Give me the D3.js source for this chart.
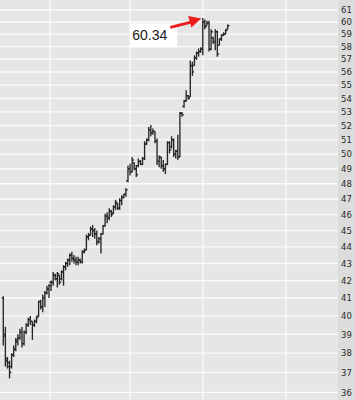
<!DOCTYPE html>
<html>
<head>
<meta charset="utf-8">
<script src="https://cdn.jsdelivr.net/npm/d3@7/dist/d3.min.js"></script>
<style>
  body { margin: 0; background: #e6e6e6; }
  svg { display: block; }
</style>
</head>
<body>
<svg width="355" height="400"></svg>
<script>
// daily OHLC
const opens = [41.0, 39.0, 37.7, 37.5, 37.3, 37.9, 38.2, 38.6, 38.8, 39.1,
  38.5, 39.1, 39.5, 39.8, 39.7, 39.5, 39.7, 40.0, 40.8, 40.5,
  41.0, 41.3, 41.5, 41.9, 41.9, 42.3, 42.1, 42.3, 42.1, 42.5,
  42.8, 43.0, 43.2, 43.5, 43.3, 43.2, 43.1, 43.2, 43.1, 43.7,
  43.8, 44.6, 44.7, 45.1, 45.0, 44.8, 44.3, 44.5, 44.8, 45.3,
  45.9, 45.8, 46.2, 46.1, 46.5, 46.7, 46.4, 46.9, 47.1, 47.3,
  48.2, 49.0, 48.8, 49.4, 49.0, 49.2, 49.5, 49.3, 49.7, 50.7,
  51.0, 51.7, 51.5, 51.6, 50.9, 49.5, 49.8, 49.2, 49.0, 49.3,
  50.8, 50.5, 51.0, 50.0, 50.2, 49.8, 52.9, 53.4, 53.8, 54.2,
  54.1, 56.5, 56.5, 57.1, 57.5, 57.6, 57.8, 60.0, 59.7, 59.9,
  57.8, 58.7, 58.4, 59.2, 58.1, 58.6, 58.9, 59.0, 59.4];
const highs = [41.1, 39.4, 37.8, 37.6, 38.0, 38.4, 38.8, 39.0, 39.3, 39.4,
  39.2, 39.6, 39.9, 40.0, 39.7, 39.8, 40.0, 40.85, 40.9, 41.2,
  41.4, 41.7, 41.8, 42.0, 42.5, 42.4, 42.5, 42.33, 42.6, 42.9,
  43.1, 43.3, 43.6, 43.7, 43.5, 43.4, 43.4, 43.3, 43.8, 43.9,
  44.75, 44.85, 45.25, 45.35, 45.15, 45.0, 44.6, 44.85, 45.35, 46.05,
  46.15, 46.4, 46.3, 46.6, 46.95, 46.75, 47.05, 47.25, 47.35, 47.7,
  49.2, 49.35, 49.8, 49.45, 49.25, 49.7, 49.6, 49.8, 50.9, 51.1,
  51.9, 52.05, 51.8, 51.6, 51.1, 49.9, 49.8, 49.6, 49.35, 50.9,
  50.9, 51.25, 51.1, 50.3, 51.35, 53.0, 53.0, 53.9, 54.6, 54.25,
  56.9, 56.8, 57.3, 57.6, 57.85, 57.95, 60.34, 60.2, 60.1, 60.1,
  59.4, 58.8, 59.4, 59.3, 58.65, 59.0, 59.15, 59.4, 59.8];
const lows = [38.4, 37.3, 37.2, 36.7, 37.2, 37.8, 38.1, 38.4, 38.7, 38.3,
  38.4, 39.0, 39.4, 39.5, 38.7, 39.4, 39.6, 39.96, 40.35, 40.2,
  40.5, 41.2, 41.0, 41.4, 41.7, 42.0, 41.6, 41.76, 42.0, 41.7,
  42.6, 42.8, 42.9, 43.1, 43.0, 42.9, 42.9, 43.0, 43.0, 43.6,
  43.8, 44.4, 44.7, 44.6, 44.5, 44.1, 44.2, 43.6, 44.75, 45.25,
  45.45, 45.65, 45.85, 46.05, 46.3, 46.3, 46.3, 46.6, 47.05, 47.15,
  48.1, 48.55, 48.75, 48.9, 48.45, 49.1, 49.25, 49.25, 49.6, 50.65,
  50.9, 51.25, 51.35, 50.75, 49.25, 49.1, 49.0, 48.8, 48.65, 49.25,
  50.05, 50.4, 49.8, 49.7, 49.6, 49.8, 52.65, 53.3, 53.75, 53.9,
  54.1, 55.7, 56.5, 56.95, 57.2, 57.5, 57.3, 59.4, 59.7, 57.6,
  57.7, 58.2, 57.7, 57.2, 58.1, 58.45, 58.85, 59.0, 59.4];
const closes = [38.9, 37.6, 37.3, 37.0, 37.9, 38.2, 38.7, 38.8, 39.1, 38.5,
  39.1, 39.5, 39.8, 39.7, 39.5, 39.7, 39.9, 40.8, 40.5, 41.0,
  41.3, 41.5, 41.7, 41.9, 42.3, 42.1, 42.4, 41.9, 42.5, 42.8,
  43.0, 43.2, 43.5, 43.3, 43.2, 43.1, 43.2, 43.1, 43.7, 43.8,
  44.6, 44.7, 45.1, 45.0, 44.8, 44.3, 44.5, 44.8, 45.3, 45.9,
  45.8, 46.2, 46.0, 46.5, 46.8, 46.4, 46.9, 47.1, 47.3, 47.6,
  49.0, 48.8, 49.6, 49.0, 48.6, 49.5, 49.3, 49.7, 50.7, 51.0,
  51.7, 51.5, 51.6, 50.9, 49.5, 49.8, 49.2, 49.0, 49.3, 50.8,
  50.3, 51.0, 50.0, 50.2, 49.8, 52.9, 52.8, 53.8, 54.2, 54.0,
  56.5, 56.0, 57.1, 57.5, 57.6, 57.8, 60.0, 59.6, 59.9, 57.8,
  59.2, 58.4, 59.2, 57.4, 58.6, 58.9, 59.0, 59.3, 59.7];

const yTicks = [36, 37, 38, 39, 40, 41, 42, 43, 44, 45, 46, 47, 48,
  49, 50, 51, 52, 53, 54, 55, 56, 57, 58, 59, 60, 61];
const gridBars = [22.5, 61, 96, 136]; // vertical grid positions, in bar units
const peakBar = 96;
const peakLabel = "60.34";

const svg = d3.select("svg");
const width = +svg.attr("width");
const height = +svg.attr("height");
const plotRight = 338;

const x = d3.scaleLinear().domain([0, opens.length - 1]).range([3.3, 227.7]);
const y = d3.scaleLog().domain([36, 61]).range([392.3, 10]);

// backgrounds
svg.append("rect").attr("width", width).attr("height", height).attr("fill", "#e6e6e6");
svg.append("rect").attr("x", plotRight).attr("width", width - plotRight)
  .attr("height", height).attr("fill", "#dcdcdc");

// grid
const grid = svg.append("g").attr("stroke", "#fbfbfb").attr("stroke-width", 1.3);
grid.selectAll("line.h").data(yTicks).enter().append("line")
  .attr("class", "h")
  .attr("x1", 0).attr("x2", plotRight)
  .attr("y1", (d) => y(d)).attr("y2", (d) => y(d));
grid.selectAll("line.v").data(gridBars).enter().append("line")
  .attr("class", "v")
  .attr("x1", (d) => x(d)).attr("x2", (d) => x(d))
  .attr("y1", 0).attr("y2", height);

// right axis labels
const yAxis = d3.axisRight(y).tickValues(yTicks).tickFormat(d3.format("d"))
  .tickSize(0).tickPadding(3);
const yAxisG = svg.append("g").attr("transform", `translate(${plotRight}, 0)`).call(yAxis);
yAxisG.select(".domain").remove();
yAxisG.selectAll("text")
  .attr("fill", "#2a2a2a")
  .style("font-family", "'DejaVu Sans', Verdana, sans-serif")
  .style("font-size", "8.5px");

// ohlc bars
const idx = d3.range(opens.length);
const bars = svg.append("g").attr("stroke", "#262626").attr("stroke-width", 1.35);
const bx = (i) => x(i);
bars.selectAll("line.hl").data(idx).enter().append("line")
  .attr("x1", bx).attr("x2", bx)
  .attr("y1", (i) => y(highs[i])).attr("y2", (i) => y(lows[i]));
bars.selectAll("line.o").data(idx).enter().append("line")
  .attr("x1", (i) => bx(i) - 1.8).attr("x2", bx)
  .attr("y1", (i) => y(opens[i])).attr("y2", (i) => y(opens[i]));
bars.selectAll("line.c").data(idx).enter().append("line")
  .attr("x1", bx).attr("x2", (i) => bx(i) + 1.8)
  .attr("y1", (i) => y(closes[i])).attr("y2", (i) => y(closes[i]));

// peak annotation
const tipX = x(peakBar) - 1.5;
const tipY = y(highs[peakBar]) + 0.5;
const note = svg.append("g");
note.append("rect")
  .attr("x", tipX - 71).attr("y", tipY + 5)
  .attr("width", 47).attr("height", 24)
  .attr("fill", "#ffffff");
note.append("text")
  .attr("x", tipX - 69).attr("y", tipY + 21.5)
  .attr("fill", "#1a1a1a")
  .style("font-family", "'Liberation Sans', Arial, sans-serif")
  .style("font-size", "14px")
  .text(peakLabel);
note.append("line")
  .attr("x1", tipX - 31).attr("y1", tipY + 9)
  .attr("x2", tipX - 9).attr("y2", tipY + 3.5)
  .attr("stroke", "#ee1c1c").attr("stroke-width", 3);
note.append("path")
  .attr("d", `M${tipX},${tipY} L${tipX - 13},${tipY - 2.5} L${tipX - 10},${tipY + 9} Z`)
  .attr("fill", "#ee1c1c");
</script>
</body>
</html>
